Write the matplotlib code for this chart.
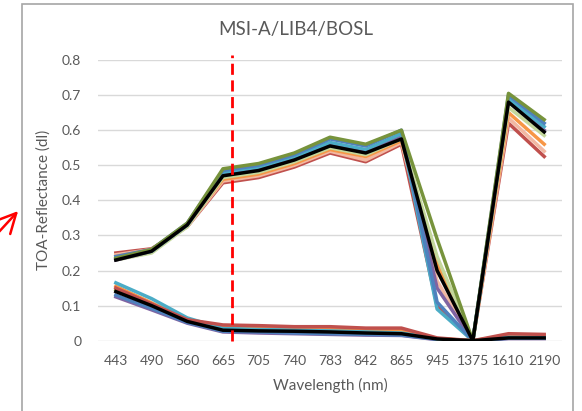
import matplotlib
matplotlib.use("Agg")
import matplotlib.pyplot as plt
from matplotlib.patches import Rectangle, FancyArrowPatch

plt.rcParams["font.family"] = ["Lato", "DejaVu Sans"]

# band wavelengths (category axis)
bands = ["443", "490", "560", "665", "705", "740", "783", "842", "865", "945", "1375", "1610", "2190"]

# bright target spectra (upper bundle)
up_green = [0.235, 0.26, 0.335, 0.49, 0.505, 0.535, 0.58, 0.56, 0.60, 0.29, 0.0, 0.705, 0.63]
up_blue = [0.24, 0.26, 0.335, 0.485, 0.50, 0.53, 0.575, 0.555, 0.60, 0.11, 0.0, 0.70, 0.62]
up_aqua = [0.235, 0.255, 0.33, 0.48, 0.495, 0.525, 0.565, 0.545, 0.59, 0.09, 0.0, 0.69, 0.61]
up_purple = [0.23, 0.255, 0.33, 0.475, 0.49, 0.52, 0.56, 0.54, 0.585, 0.15, 0.0, 0.685, 0.60]
up_lgreen = [0.23, 0.25, 0.325, 0.465, 0.48, 0.51, 0.55, 0.53, 0.575, 0.24, 0.0, 0.665, 0.585]
up_orange = [0.24, 0.26, 0.33, 0.46, 0.475, 0.505, 0.545, 0.525, 0.57, 0.22, 0.0, 0.65, 0.56]
up_salmon = [0.245, 0.26, 0.325, 0.455, 0.47, 0.50, 0.54, 0.515, 0.565, 0.17, 0.0, 0.635, 0.54]
up_red = [0.25, 0.262, 0.325, 0.45, 0.465, 0.495, 0.535, 0.51, 0.56, 0.10, 0.0, 0.62, 0.525]
up_mean = [0.23, 0.255, 0.33, 0.47, 0.485, 0.515, 0.555, 0.535, 0.575, 0.20, 0.0, 0.68, 0.595]

# dark target spectra (lower bundle)
lo_red = [0.15, 0.105, 0.06, 0.045, 0.043, 0.04, 0.04, 0.036, 0.036, 0.008, 0.0, 0.02, 0.018]
lo_aqua = [0.165, 0.12, 0.065, 0.035, 0.032, 0.03, 0.028, 0.025, 0.022, 0.005, 0.0, 0.01, 0.01]
lo_orange = [0.155, 0.108, 0.06, 0.04, 0.038, 0.036, 0.034, 0.031, 0.03, 0.006, 0.0, 0.015, 0.014]
lo_green = [0.145, 0.102, 0.058, 0.038, 0.036, 0.034, 0.032, 0.03, 0.028, 0.006, 0.0, 0.012, 0.012]
lo_blue = [0.13, 0.092, 0.052, 0.027, 0.025, 0.022, 0.02, 0.018, 0.016, 0.004, 0.0, 0.007, 0.007]
lo_purple = [0.125, 0.088, 0.05, 0.025, 0.022, 0.02, 0.018, 0.016, 0.015, 0.003, 0.0, 0.006, 0.006]
lo_mean = [0.14, 0.10, 0.055, 0.03, 0.028, 0.027, 0.025, 0.022, 0.02, 0.005, 0.0, 0.008, 0.008]

marker_x = 3.25  # red dashed marker position (between 665 and 705)

grey = "#595959"
fig = plt.figure(figsize=(5.82, 4.11), dpi=100)
ax = fig.add_axes([0.1684, 0.171, 0.7973, 0.683])

x = range(len(bands))
upper = [(up_red, "#C0504D"), (up_salmon, "#F2B8A2"), (up_orange, "#F79646"),
         (up_lgreen, "#C4D79B"), (up_purple, "#8064A2"), (up_aqua, "#4BACC6"),
         (up_blue, "#4F81BD"), (up_green, "#77933C")]
lower = [(lo_purple, "#8064A2"), (lo_blue, "#4F81BD"), (lo_green, "#9BBB59"),
         (lo_orange, "#F79646"), (lo_aqua, "#4BACC6"), (lo_red, "#C0504D")]
for vals, c in upper + lower:
    ax.plot(x, vals, color=c, lw=2.5, solid_joinstyle="round")
ax.plot(x, up_mean, color="black", lw=2.5)
ax.plot(x, lo_mean, color="black", lw=2.5)

ax.plot([marker_x, marker_x], [0, 0.815], color="red", lw=2, ls=(0, (4, 2)), clip_on=False, zorder=5)

ax.set_xlim(-0.5, len(bands) - 0.5)
ax.set_ylim(0, 0.8)
ax.set_yticks([0, 0.1, 0.2, 0.3, 0.4, 0.5, 0.6, 0.7, 0.8])
ax.set_yticklabels(["0", "0.1", "0.2", "0.3", "0.4", "0.5", "0.6", "0.7", "0.8"])
ax.set_xticks(list(x))
ax.set_xticklabels(bands)
ax.grid(axis="y", color="#D9D9D9", lw=1)
ax.set_axisbelow(True)
for s in ax.spines.values():
    s.set_visible(False)
ax.tick_params(length=0, labelsize=10, labelcolor=grey)
ax.tick_params(axis="y", pad=12)
ax.tick_params(axis="x", pad=10)
ax.set_xlabel("Wavelength (nm)", fontsize=11, color=grey, labelpad=8)
ax.set_ylabel("TOA-Reflectance (dl)", fontsize=11, color=grey, labelpad=8)
fig.text(296 / 582, 1 - 30 / 411, "MSI-A/LIB4/BOSL", ha="center", va="center", fontsize=13.5, color=grey)

# chart frame and pointer arrow
fig.patches.append(Rectangle((22 / 582, -0.05), 551 / 582, 1.04, transform=fig.transFigure,
                             fill=False, ec="#A6A6A6", lw=1.2))
fig.patches.append(FancyArrowPatch((-3 / 582, 1 - 234 / 411), (20 / 582, 1 - 209 / 411),
                                   transform=fig.transFigure, arrowstyle="->,head_length=14,head_width=7",
                                   color="red", lw=1.8))

fig.savefig("out.png", dpi=100)
